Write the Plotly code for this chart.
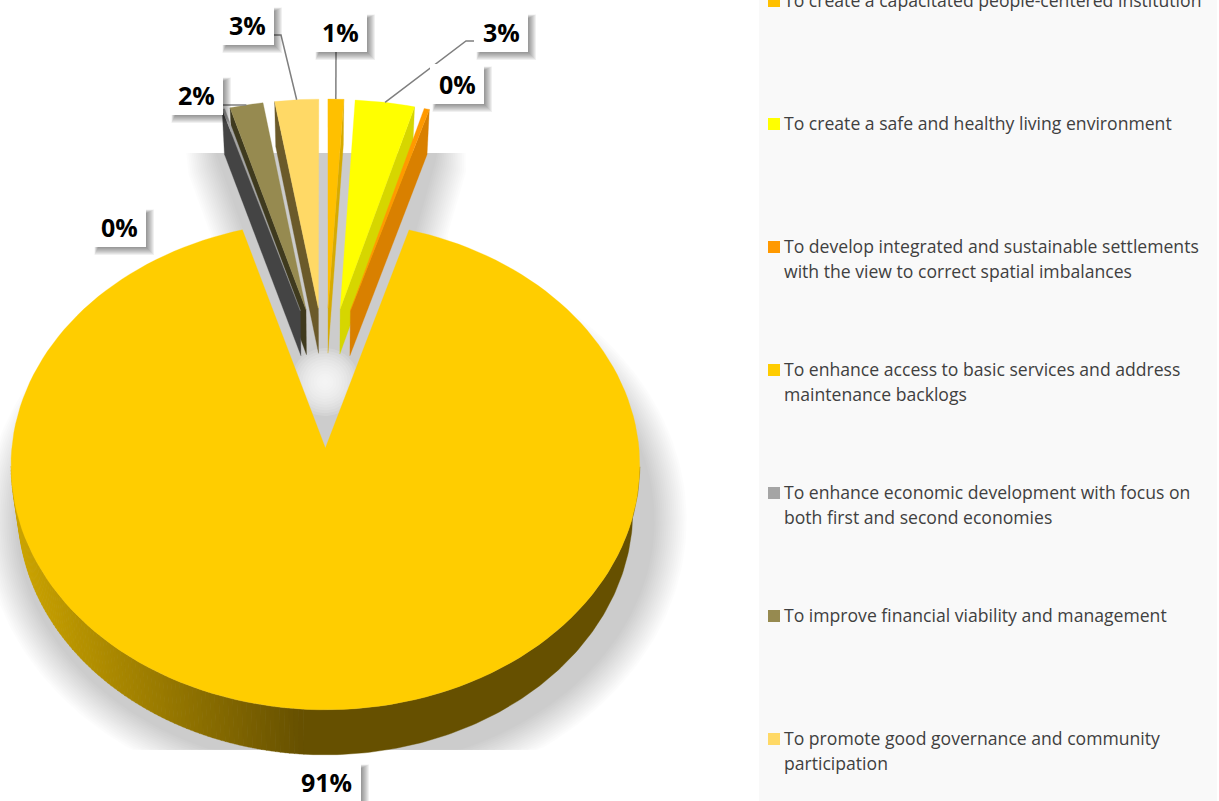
import numpy as np
import plotly.graph_objects as go

# Strategic objectives and their share of the budget, clockwise from 12 o'clock
categories = [
    "To create a capacitated people-centered institution",
    "To create a safe and healthy living environment",
    "To develop integrated and sustainable settlements",
    "To enhance access to basic services and address",
    "To enhance economic development with focus on",
    "To improve financial viability and management",
    "To promote good governance and community",
]
second_lines = ["", "", "with the view to correct spatial imbalances",
                "maintenance backlogs", "both first and second economies", "", "participation"]
shares = [0.9, 3.4, 0.3, 90.84, 0.15, 1.9, 2.51]
top_colors = ["#FFC000", "#FFFF00", "#FF9900", "#FFCD00", "#A5A5A5", "#968A50", "#FFD966"]
wall_colors = ["#D6AB00", "#D6D600", "#D98000", "#665000", "#444444", "#3F3A1E", "#6B5A2A"]
key_colors = ["#FFC000", "#FFFF00", "#FF9900", "#FFCC00", "#A5A5A5", "#968A50", "#FFD966"]

# Projection of the tilted pie onto the page
CX, Y0, SX, SY, TILT, DEPTH, PULL = 325.5, 376.6, 307.0, 233.0, 0.07, 45.0, 0.30
FLOOR_SCALE = 0.978
LABEL_FONT = "Open Sans"


def project(u, v):
    w = 1 - TILT * v
    return CX + SX * u / w, Y0 + SY * v / w


def floor_x(x):
    return CX + (x - CX) * FLOOR_SCALE


def slice_angles():
    edges = np.cumsum([0] + shares) / sum(shares) * 2 * np.pi
    return edges[:-1], edges[1:]


def apex(mid):
    return PULL * np.sin(mid), -PULL * np.cos(mid)


def rim(a, b, mid, n=160):
    t = np.linspace(a, b, n)
    u0, v0 = apex(mid)
    return project(u0 + np.sin(t), v0 - np.cos(t))


def polygon(fig, xs, ys, color, edge=0.0):
    fig.add_trace(go.Scatter(
        x=np.append(xs, xs[0]), y=np.append(ys, ys[0]), mode="lines", fill="toself",
        fillcolor=color, line=dict(width=edge, color=color), showlegend=False, hoverinfo="skip",
    ))


def mix(c1, c2, f):
    return "rgb({},{},{})".format(*[round(p + (q - p) * f) for p, q in zip(c1, c2)])


def dilate(xs, ys, d):
    tx = np.roll(xs, -1) - np.roll(xs, 1)
    ty = np.roll(ys, -1) - np.roll(ys, 1)
    ln = np.hypot(tx, ty) + 1e-9
    return xs + d * ty / ln, ys - d * tx / ln


fig = go.Figure()
starts, ends = slice_angles()
BIG = int(np.argmax(shares))
big_mid = (starts[BIG] + ends[BIG]) / 2

# Soft drop shadow, built from stacked translucent outlines
arc_x, arc_y = rim(starts[BIG], ends[BIG], big_mid, 260)
arc_y = arc_y + 55
outline_x = np.concatenate([arc_x, np.linspace(arc_x[-1], 240, 8)[1:], np.linspace(240, 210, 10)[1:],
                            np.linspace(210, 423, 30)[1:], np.linspace(423, 400, 10)[1:],
                            np.linspace(400, arc_x[0], 8)[1:-1]]) + 10
outline_y = np.concatenate([arc_y, np.linspace(arc_y[-1], 235, 8)[1:], np.linspace(235, 153, 10)[1:],
                            np.full(29, 153.0), np.linspace(153, 235, 10)[1:],
                            np.linspace(235, arc_y[0], 8)[1:-1]])
orient = np.sum(outline_x * np.roll(outline_y, -1) - np.roll(outline_x, -1) * outline_y)
sign = 1 if orient > 0 else -1
for d in np.linspace(5, 37, 17):
    dx, dy = dilate(outline_x, outline_y, sign * d)
    polygon(fig, dx, np.clip(dy, 153, 750), "rgba(0,0,0,0.0118)")

# Light spot where the slices fan out
theta = np.linspace(0, 2 * np.pi, 60)
for r in np.linspace(34, 3, 12):
    polygon(fig, 325 + r * np.cos(theta), 382 + r * np.sin(theta), "rgba(255,255,255,0.14)")

# Rim of the large slice, shaded from the left
bx, by = rim(starts[BIG], ends[BIG], big_mid, 400)
lo, hi = sorted((int(np.argmin(bx)), int(np.argmax(bx))))
rx, ry = bx[lo:hi + 1], by[lo:hi + 1]
order = np.argsort(rx)
rx, ry = rx[order], ry[order]
shade_end = 300.0
for i in range(0, len(rx) - 1):
    if rx[i] > shade_end:
        continue
    f = min(1.0, max(0.0, (rx[i] - rx[0]) / (shade_end - rx[0])))
    c = mix((205, 165, 0), (102, 80, 0), f)
    xs = np.array([rx[i], rx[i + 1] + 0.4, floor_x(rx[i + 1]) + 0.4, floor_x(rx[i])])
    ys = np.array([ry[i], ry[i + 1], ry[i + 1] + DEPTH, ry[i] + DEPTH])
    polygon(fig, xs, ys, c, 0.4)
keep = rx >= shade_end
polygon(fig, np.concatenate([rx[keep], floor_x(rx[keep][::-1])]),
        np.concatenate([ry[keep], ry[keep][::-1] + DEPTH]), "#665000", 0.4)

# Top faces and the radial side walls; slices nearer the gap sit in front
draw_order = [BIG, 6, 5, 4, 0, 1, 2]
for i in draw_order:
    a, b = starts[i], ends[i]
    mid = (a + b) / 2
    u0, v0 = apex(mid)
    ax_, ay_ = project(u0, v0)
    ox, oy = rim(a, b, mid)
    if i != BIG:
        ex, ey = (ox[-1], oy[-1]) if mid < np.pi else (ox[0], oy[0])
        polygon(fig, np.array([ax_, ex, floor_x(ex), floor_x(ax_)]),
                np.array([ay_, ey, ey + DEPTH, ay_ + DEPTH]), wall_colors[i], 0.3)
    polygon(fig, np.append(ox, ax_), np.append(oy, ay_), top_colors[i], 0.3)


def rim_mid(i):
    mid = (starts[i] + ends[i]) / 2
    xs, ys = rim(mid, mid, mid, 1)
    return float(xs[0]), float(ys[0])


# Legend panel, keys and wrapped text
shapes = [dict(type="rect", x0=759, x1=1217, y0=0, y1=801, fillcolor="#F9F9F9", line_width=0, layer="below")]
annotations = []
key_y = [1, 124, 247, 370, 493, 616, 739]
LINE_GAP = 25
fig.add_trace(go.Scatter(x=[774] * 7, y=key_y, mode="markers", showlegend=False, hoverinfo="skip",
                         marker=dict(symbol="square", size=12, color=key_colors, line_width=0)))
for y, first, second in zip(key_y, categories, second_lines):
    for k, text in enumerate([first, second]):
        if text:
            annotations.append(dict(x=782, y=y + k * LINE_GAP - 1, xref="x", yref="y", text=text, showarrow=False,
                                    xanchor="left", yanchor="middle",
                                    font=dict(family=LABEL_FONT, size=17.6, color="#404040")))

# Leader lines run from the value boxes to the slice rims
leaders = {6: [(270, 35), (281, 35)], 0: [(336, 52)], 1: [(474, 41), (466, 41)], 5: [(220, 105), (232, 105)]}
for i, path in leaders.items():
    end = rim_mid(i)
    pts = path + [end]
    fig.add_trace(go.Scatter(x=[p[0] for p in pts], y=[p[1] for p in pts], mode="lines", showlegend=False,
                             hoverinfo="skip", line=dict(color="#7F7F7F", width=1.5)))

# White value boxes with a drop shadow falling to the lower right
boxes = {6: (220, 5), 0: (313, 12), 1: (474, 12), 2: (430, 64), 5: (169, 75), 4: (92, 207), 3: (291, 762)}
for i, (bx0, by0) in boxes.items():
    w = 70 if i == BIG else 54
    h = 40
    for g in range(8):
        shapes.append(dict(type="rect", x0=bx0 + 6 - g * 0.5, x1=bx0 + w + g + 1, y0=by0 + 6 - g * 0.5, y1=by0 + h + g + 1,
                           fillcolor="rgba(0,0,0,0.06)", line_width=0, layer="above"))
    shapes.append(dict(type="rect", x0=bx0, x1=bx0 + w, y0=by0, y1=by0 + h, fillcolor="#FFFFFF",
                       line_width=0, layer="above"))
    annotations.append(dict(x=bx0 + w / 2, y=by0 + h / 2, xref="x", yref="y", text=f"{round(shares[i])}%",
                            showarrow=False, xanchor="center", yanchor="middle",
                            font=dict(family=LABEL_FONT, size=25, color="#000000", weight="bold")))

fig.update_layout(
    width=1219, height=801, autosize=False, margin=dict(l=0, r=0, t=0, b=0),
    paper_bgcolor="#FFFFFF", plot_bgcolor="#FFFFFF", showlegend=False, hovermode=False,
    xaxis=dict(range=[0, 1219], visible=False, fixedrange=True),
    yaxis=dict(range=[801, 0], visible=False, fixedrange=True),
    shapes=shapes, annotations=annotations,
)
fig.write_html("out.html", config=dict(displayModeBar=False))
